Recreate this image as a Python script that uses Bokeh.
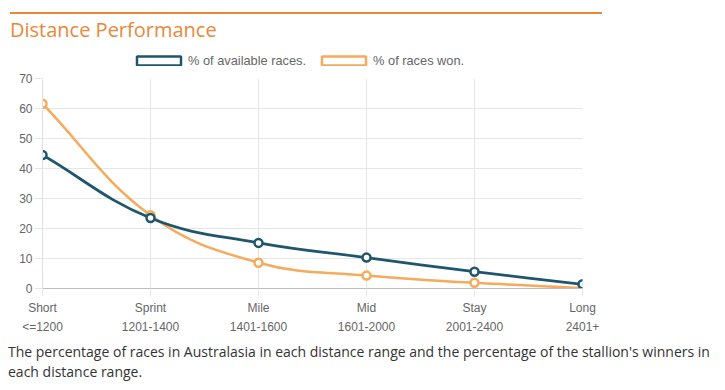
import numpy as np
from bokeh.plotting import figure
from bokeh.layouts import column
from bokeh.models import (Legend, LegendItem, ColumnDataSource, FixedTicker, LinearAxis, Div)
from bokeh.embed import file_html
from bokeh.resources import INLINE

# ---- data ----
categories = ["Short", "Sprint", "Mile", "Mid", "Stay", "Long"]
distance_ranges = ["<=1200", "1201-1400", "1401-1600", "1601-2000", "2001-2400", "2401+"]
available_pct = [44.5, 23.5, 15.2, 10.3, 5.6, 1.4]
won_pct = [61.6, 24.4, 8.6, 4.3, 1.9, 0.2]
y_ticks = [0, 10, 20, 30, 40, 50, 60, 70]

title_text = "Distance Performance"
legend_labels = ["% of available races.", "% of races won."]
caption_text = ("The percentage of races in Australasia in each distance range and the percentage "
                "of the stallion's winners in each distance range.")

NAVY = "#1f566c"
ORANGE = "#f5aa5c"
TITLE_ORANGE = "#e8893a"

W = 720
BL, BR, BT, BB = 42, W - 582, 10, 47
FH = 211
FIG_H = BT + FH + BB
FW = W - BL - BR

p = figure(width=W, height=FIG_H, output_backend="svg", toolbar_location=None, title=None,
           x_range=(0, len(categories) - 1), y_range=(0, 70),
           min_border_left=BL, min_border_right=BR, min_border_top=BT, min_border_bottom=0,
           outline_line_color=None, background_fill_color="white", border_fill_color="white",
           margin=(0, 0, 0, 0))


def chartjs_bezier(xs, ys, t=0.4):
    sx = FW / (len(xs) - 1)
    sy = FH / 70.0
    px = np.asarray(xs, float) * sx
    py = np.asarray(ys, float) * sy
    n = len(px)
    cpp, cpn = [], []
    for i in range(n):
        a = i - 1 if i > 0 else i
        b = i + 1 if i < n - 1 else i
        d01 = np.hypot(px[i] - px[a], py[i] - py[a])
        d12 = np.hypot(px[b] - px[i], py[b] - py[i])
        s = d01 + d12
        s01 = d01 / s if s else 0
        s12 = d12 / s if s else 0
        fa, fb = t * s01, t * s12
        cpp.append((px[i] - fa * (px[b] - px[a]), min(max(py[i] - fa * (py[b] - py[a]), 0), FH)))
        cpn.append((px[i] + fb * (px[b] - px[a]), min(max(py[i] + fb * (py[b] - py[a]), 0), FH)))
    d = dict(x0=[], y0=[], x1=[], y1=[], cx0=[], cy0=[], cx1=[], cy1=[])
    for i in range(n - 1):
        d["x0"].append(px[i] / sx); d["y0"].append(py[i] / sy)
        d["x1"].append(px[i + 1] / sx); d["y1"].append(py[i + 1] / sy)
        d["cx0"].append(cpn[i][0] / sx); d["cy0"].append(cpn[i][1] / sy)
        d["cx1"].append(cpp[i + 1][0] / sx); d["cy1"].append(cpp[i + 1][1] / sy)
    return ColumnDataSource(d)


xs = list(range(len(categories)))

# grid / axes styling
p.xgrid.grid_line_color = "#e6e6e6"
p.ygrid.grid_line_color = "#e6e6e6"
p.xaxis.ticker = FixedTicker(ticks=xs)
p.yaxis.ticker = FixedTicker(ticks=y_ticks)
p.xaxis.major_label_overrides = {i: c for i, c in enumerate(categories)}
for ax in (p.xaxis[0], p.yaxis[0]):
    ax.major_label_text_font = "Liberation Sans"
    ax.major_label_text_font_size = "12px"
    ax.major_label_text_color = "#666666"
    ax.major_tick_in = 0
    ax.major_tick_out = 8
    ax.minor_tick_line_color = None
    ax.major_tick_line_color = "#e6e6e6"
p.xaxis.axis_line_color = "#bdbdbd"
p.yaxis.axis_line_color = "#e0e0e0"
p.xaxis.major_label_standoff = 4
p.yaxis.major_label_standoff = 2

# second row of x labels: distance ranges
ax2 = LinearAxis(ticker=FixedTicker(ticks=xs),
                 major_label_overrides={i: r for i, r in enumerate(distance_ranges)},
                 major_label_text_font="Liberation Sans", major_label_text_font_size="12px",
                 major_label_text_color="#666666", major_label_standoff=2,
                 axis_line_color=None, major_tick_line_color=None, minor_tick_line_color=None,
                 major_tick_in=0, major_tick_out=0)
p.add_layout(ax2, "below")

# series (orange first so navy is on top)
src_w = chartjs_bezier(xs, won_pct)
src_a = chartjs_bezier(xs, available_pct)
p.bezier(x0="x0", y0="y0", x1="x1", y1="y1", cx0="cx0", cy0="cy0", cx1="cx1", cy1="cy1",
         source=src_w, line_color=ORANGE, line_width=2.5)
p.scatter(xs, won_pct, size=8, fill_color="white", line_color=ORANGE, line_width=2.5)
p.bezier(x0="x0", y0="y0", x1="x1", y1="y1", cx0="cx0", cy0="cy0", cx1="cx1", cy1="cy1",
         source=src_a, line_color=NAVY, line_width=2.8)
p.scatter(xs, available_pct, size=8, fill_color="white", line_color=NAVY, line_width=2.5)

# legend strip: its own small figure whose frame fills the canvas
LEG_H = 24
lf = figure(width=W, height=LEG_H, output_backend="svg", toolbar_location=None, title=None,
            x_range=(0, 1), y_range=(0, 1), x_axis_type=None, y_axis_type=None,
            min_border=0, outline_line_color=None, margin=(0, 0, 0, 0))
lf.grid.visible = False
off_view = ColumnDataSource(dict(x=[-10], y=[-10]))
r_a = lf.rect(x="x", y="y", width=1, height=1, source=off_view, fill_color="white", line_color=NAVY, line_width=2.5)
r_w = lf.rect(x="x", y="y", width=1, height=1, source=off_view, fill_color="white", line_color=ORANGE, line_width=2.5)
legend = Legend(items=[LegendItem(label=legend_labels[0], renderers=[r_a]),
                       LegendItem(label=legend_labels[1], renderers=[r_w])],
                orientation="horizontal", location=(89, 0),
                glyph_width=55, glyph_height=11, label_height=11, label_standoff=2, spacing=10,
                padding=0, margin=0, border_line_color=None, background_fill_alpha=0,
                label_text_font="Liberation Sans", label_text_font_size="12.8px",
                label_text_color="#666666")
lf.add_layout(legend, "center")

title_div = Div(text=(f"<div style=\"margin:12px 0 0 10px;width:592px;border-top:2px solid {TITLE_ORANGE};"
                      f"color:{TITLE_ORANGE};font-family:'Open Sans';font-size:20px;line-height:27px;"
                      f"padding-top:2px;\">{title_text}</div>"),
                width=W, height=44, margin=(0, 0, 0, 0))
caption_div = Div(text=(f"<div style=\"margin:0 0 0 8px;width:712px;color:#333333;font-family:'Open Sans';"
                        f"font-size:14px;line-height:20px;padding-top:6px;\">{caption_text}</div>"),
                  width=W, height=54, margin=(0, 0, 0, 0))

layout = column(title_div, lf, p, caption_div, spacing=0)
open("out.html", "w").write(file_html(layout, INLINE))
